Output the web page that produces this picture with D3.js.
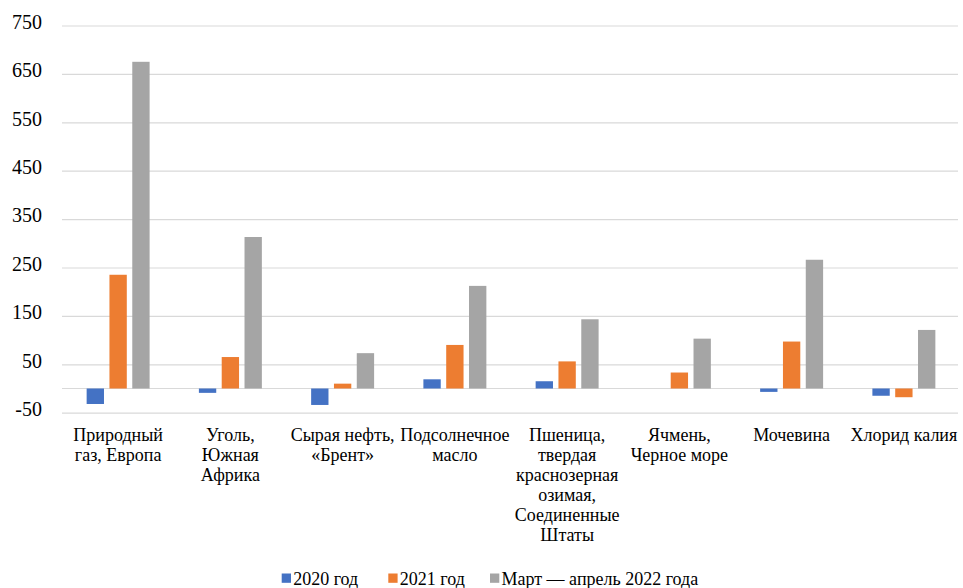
<!DOCTYPE html>
<html>
<head>
<meta charset="utf-8">
<script src="https://cdn.jsdelivr.net/npm/d3@7"></script>
<style>
  html, body { margin: 0; padding: 0; background: #fff; }
  svg { display: block; }
  svg text { font-family: 'Liberation Serif', serif; fill: #000; }
</style>
</head>
<body>
<svg id="chart" width="963" height="588"></svg>
<script>
const categories = [
  "Природный\nгаз, Европа",
  "Уголь,\nЮжная\nАфрика",
  "Сырая нефть,\n«Брент»",
  "Подсолнечное\nмасло",
  "Пшеница,\nтвердая\nкраснозерная\nозимая,\nСоединенные\nШтаты",
  "Ячмень,\nЧерное море",
  "Мочевина",
  "Хлорид калия"
];
const seriesNames = ["2020 год", "2021 год", "Март — апрель 2022 года"];
const values2020 = [-32, -9, -34, 19, 15, 0, -7, -15];
const values2021 = [235, 65, 10, 90, 56, 33, 97, -18];
const values2022 = [675, 313, 73, 212, 143, 103, 266, 121];
const yTicks = [-50, 50, 150, 250, 350, 450, 550, 650, 750];
const colors = ["#4472C4", "#ED7D31", "#A5A5A5"];

const svg = d3.select("#chart");
const mLeft = 62, mRight = 960, mTop = 25.5, mBottom = 412.7;

const x = d3.scaleBand().domain(categories).range([mLeft, mRight]).paddingInner(0).paddingOuter(0);
const y = d3.scaleLinear().domain([-50, 750]).range([mBottom, mTop]);
const xs = d3.scaleBand().domain(seriesNames).range([0, x.bandwidth()]).paddingInner(0.24).paddingOuter(1.08);

// gridlines + tick labels
const yAxis = d3.axisLeft(y).tickValues(yTicks).tickSize(-(mRight - mLeft - 2)).tickFormat(d => String(d));
const gy = svg.append("g").attr("transform", `translate(${mLeft},0)`).call(yAxis);
gy.attr("font-family", null).attr("font-size", null);
gy.select(".domain").remove();
gy.selectAll(".tick line").attr("stroke", "#D9D9D9").attr("stroke-width", 1.2);
gy.selectAll(".tick text").attr("x", -20).attr("dy", "2.8px").attr("font-size", 20)
  .style("font-family", "'Liberation Serif', serif").attr("fill", "#000");

// zero line
svg.append("line").attr("x1", mLeft).attr("x2", mRight - 2)
  .attr("y1", y(0)).attr("y2", y(0)).attr("stroke", "#D9D9D9").attr("stroke-width", 1.2);

const allSeries = [values2020, values2021, values2022];
allSeries.forEach((vals, si) => {
  svg.append("g").selectAll("rect").data(vals).join("rect")
    .attr("x", (d, i) => x(categories[i]) + xs(seriesNames[si]))
    .attr("width", xs.bandwidth())
    .attr("y", d => y(Math.max(0, d)))
    .attr("height", d => Math.abs(y(d) - y(0)))
    .attr("fill", colors[si]);
});

// category labels
const xAxis = d3.axisBottom(x).tickSize(0).tickFormat("");
const gx = svg.append("g").attr("transform", `translate(0,${mBottom})`).call(xAxis);
gx.attr("font-family", null).attr("font-size", null);
gx.select(".domain").remove();
gx.selectAll(".tick").each(function(d) {
  const lines = d.split("\n");
  const t = d3.select(this).append("text")
    .attr("text-anchor", "middle").attr("font-size", 18).attr("fill", "#000")
    .style("font-family", "'Liberation Serif', serif");
  lines.forEach((ln, i) => {
    t.append("tspan").attr("x", 0).attr("y", 28.5 + i * 20).text(ln);
  });
});

// legend
const legendX = [281.7, 388.3, 490];
const lg = svg.append("g");
seriesNames.forEach((n, i) => {
  lg.append("rect").attr("x", legendX[i]).attr("y", 573.5).attr("width", 9.3).attr("height", 9.3).attr("fill", colors[i]);
  lg.append("text").attr("x", legendX[i] + 11.5).attr("y", 584.5).attr("font-size", 18)
    .style("font-family", "'Liberation Serif', serif").text(n);
});
</script>
</body>
</html>
